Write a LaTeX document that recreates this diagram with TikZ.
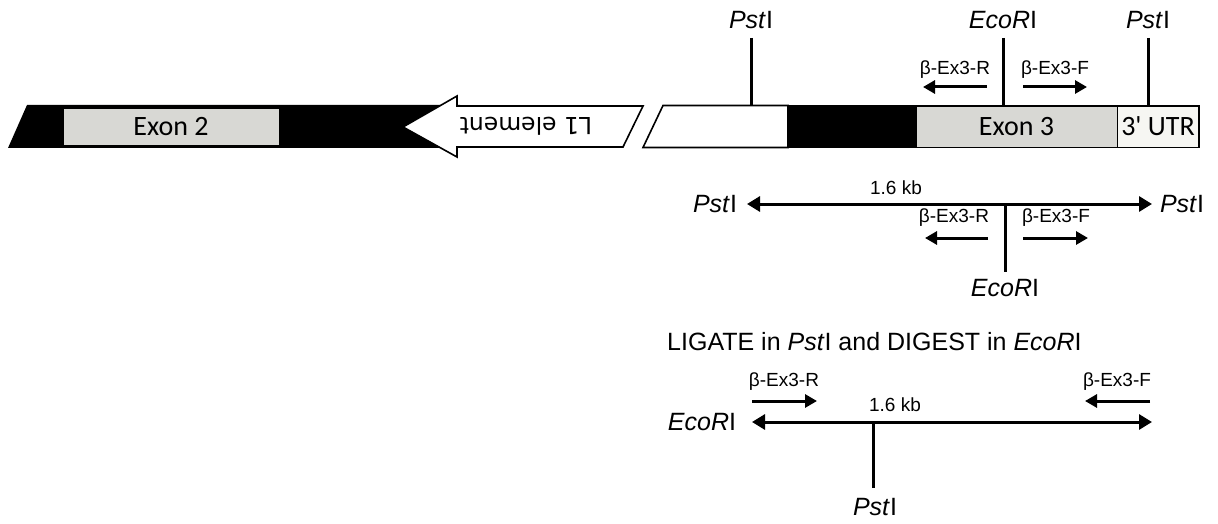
\documentclass[tikz,border=0pt]{standalone}
\usepackage{fontspec}
\setmainfont{Liberation Sans}
\newfontfamily\calib{Carlito}
\newfontfamily\dvs{DejaVu Sans}
\usetikzlibrary{arrows.meta}
\definecolor{exongrey}{RGB}{216,216,212}
\definecolor{utrwhite}{RGB}{246,246,242}
\tikzset{
  lbl/.style={font=\fontsize{25}{25}\selectfont, inner sep=0pt},
  prim/.style={font=\fontsize{19}{19}\selectfont, inner sep=0pt},
  boxtxt/.style={font=\calib\fontsize{28}{28}\selectfont, inner sep=0pt},
  site/.style={line width=3pt},
  primarr/.style={line width=3pt, -{Triangle[length=12pt,width=13pt]}},
  dbl/.style={line width=3pt, {Triangle[length=13pt,width=15pt]}-{Triangle[length=13pt,width=15pt]}},
  outl/.style={draw=black, line width=1.6pt, line join=miter}
}
\begin{document}
\begin{tikzpicture}[x=1pt,y=-1pt]
\useasboundingbox (0,0) rectangle (1218,524);
% left part: black bar
\fill[black] (8,148) -- (27,105) -- (460,105) -- (460,148) -- cycle;
\node[boxtxt, fill=exongrey, draw=black, line width=0.8pt, minimum width=216pt, minimum height=37pt] (ex2) at (171,126.5) {Exon 2};
% L1 element arrow
\draw[outl, fill=white] (403,127) -- (457,96) -- (457,106) -- (643,106) -- (623,147) -- (457,147) -- (457,157) -- cycle;
\node[font=\dvs\fontsize{23.5}{23.5}\selectfont, rotate=180, inner sep=0pt] (l1) at (526,126) {L1 element};
% right part
\draw[outl, fill=white] (643,147.5) -- (663,105.5) -- (788,105.5) -- (788,147.5) -- cycle;
\fill[black] (788,105.5) rectangle (916,147.5);
\node[boxtxt, draw=black, line width=0.8pt, fill=exongrey, minimum width=201pt, minimum height=41pt] (ex3) at (1016.5,126.5) {Exon 3};
\node[boxtxt, draw=black, line width=0.8pt, fill=utrwhite, minimum width=82pt, minimum height=41pt] (utr) at (1158,126.5) {3' UTR};
\draw[black, line width=1.6pt] (643,147.5) -- (1199,147.5);
\draw[black, line width=1.6pt] (663,105.5) -- (1199,105.5) -- (1199,147.5);
% sites on top
\node[lbl] (p1) at (751,20) {\textit{Pst}I};
\coordinate (p1t) at (751,38);
\coordinate (p1b) at (751,105);
\draw[site] (p1t) -- (p1b);
\node[lbl] (e1) at (1003,20) {\textit{EcoR}I};
\coordinate (e1t) at (1003,38);
\coordinate (e1b) at (1003,105);
\draw[site] (e1t) -- (e1b);
\node[lbl] (p2) at (1148,20) {\textit{Pst}I};
\coordinate (p2t) at (1148,38);
\coordinate (p2b) at (1148,105);
\draw[site] (p2t) -- (p2b);
% primers on top
\node[prim] (r1) at (955,70) {β-Ex3-R};
\coordinate (r1a) at (987,87); \coordinate (r1b) at (923,87);
\draw[primarr] (r1a) -- (r1b);
\node[prim] (f1) at (1055,70) {β-Ex3-F};
\coordinate (f1a) at (1023,87); \coordinate (f1b) at (1087,87);
\draw[primarr] (f1a) -- (f1b);
% middle map
\node[lbl] (mpl) at (715,204) {\textit{Pst}I};
\node[lbl] (mpr) at (1182,204) {\textit{Pst}I};
\coordinate (ml) at (747,204); \coordinate (mr) at (1152,204);
\draw[dbl] (ml) -- (mr);
\node[prim] (kb1) at (896,188) {1.6 kb};
\coordinate (mev) at (1005,204); \coordinate (meb) at (1005,272);
\draw[site] (mev) -- (meb);
\node[lbl] (me) at (1005,288) {\textit{EcoR}I};
\node[prim] (r2) at (954,218) {β-Ex3-R};
\coordinate (r2a) at (988,238); \coordinate (r2b) at (925,238);
\draw[primarr] (r2a) -- (r2b);
\node[prim] (f2) at (1056,218) {β-Ex3-F};
\coordinate (f2a) at (1023,238); \coordinate (f2b) at (1088,238);
\draw[primarr] (f2a) -- (f2b);
% bottom
\node[lbl, anchor=west] (lig) at (667,342) {LIGATE in \textit{Pst}I and DIGEST in \textit{EcoR}I};
\node[prim] (r3) at (784,382) {β-Ex3-R};
\coordinate (r3a) at (752,401); \coordinate (r3b) at (817,401);
\draw[primarr] (r3a) -- (r3b);
\node[prim] (f3) at (1117,382) {β-Ex3-F};
\coordinate (f3a) at (1150,401); \coordinate (f3b) at (1085,401);
\draw[primarr] (f3a) -- (f3b);
\node[prim] (kb2) at (895,405) {1.6 kb};
\node[lbl] (be) at (702,422) {\textit{EcoR}I};
\coordinate (bl) at (752,422); \coordinate (br) at (1152,422);
\draw[dbl] (bl) -- (br);
\coordinate (bpt) at (873,422); \coordinate (bpb) at (873,488);
\draw[site] (bpt) -- (bpb);
\node[lbl] (bp) at (875,507) {\textit{Pst}I};
\end{tikzpicture}
\end{document}
